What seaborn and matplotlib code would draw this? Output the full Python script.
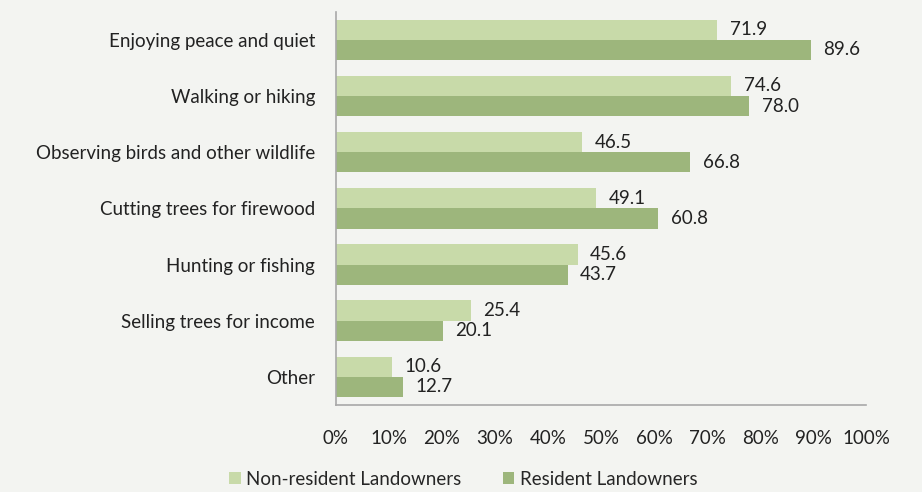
import pandas as pd
import matplotlib.pyplot as plt
import seaborn as sns
from matplotlib.ticker import PercentFormatter

categories = ["Enjoying peace and quiet", "Walking or hiking",
              "Observing birds and other wildlife", "Cutting trees for firewood",
              "Hunting or fishing", "Selling trees for income", "Other"]
non_resident = [71.9, 74.6, 46.5, 49.1, 45.6, 25.4, 10.6]
resident = [89.6, 78.0, 66.8, 60.8, 43.7, 20.1, 12.7]
groups = ["Non-resident Landowners", "Resident Landowners"]

df = pd.DataFrame({
    "category": categories * 2,
    "value": non_resident + resident,
    "group": [groups[0]] * len(categories) + [groups[1]] * len(categories),
})

bg = "#f3f4f1"
sns.set_style("white")
plt.rcParams["font.family"] = ["Lato", "DejaVu Sans"]

fig = plt.figure(figsize=(9.22, 4.92), dpi=100, facecolor=bg)
ax = fig.add_axes([0.3644, 0.177, 0.575, 0.799])
ax.set_facecolor(bg)

sns.barplot(data=df, y="category", x="value", hue="group", order=categories,
            hue_order=groups, palette=["#c8daa9", "#9db67c"], width=0.72,
            orient="h", ax=ax, saturation=1, linewidth=0)

for cont in ax.containers:
    ax.bar_label(cont, fmt="%.1f", padding=9, fontsize=13.5, color="#222222")

ax.set_xlim(0, 100)
ax.set_ylim(6.5, -0.5)
ax.set_xticks(range(0, 101, 10))
ax.xaxis.set_major_formatter(PercentFormatter(decimals=0))
ax.tick_params(axis="both", length=0, labelsize=13.5, colors="#222222")
ax.tick_params(axis="y", pad=15)
ax.tick_params(axis="x", pad=18)
ax.set_xlabel("")
ax.set_ylabel("")
for s in ["top", "right"]:
    ax.spines[s].set_visible(False)
for s in ["left", "bottom"]:
    ax.spines[s].set_color("#a8a8a8")
    ax.spines[s].set_linewidth(1.2)

ax.legend(loc="upper center", bbox_to_anchor=(0.24, -0.125), ncol=2, frameon=False,
          fontsize=13.5, handlelength=0.6, handleheight=0.6, handletextpad=0.3,
          columnspacing=2.2)

fig.savefig("out.png", dpi=100, facecolor=bg)
